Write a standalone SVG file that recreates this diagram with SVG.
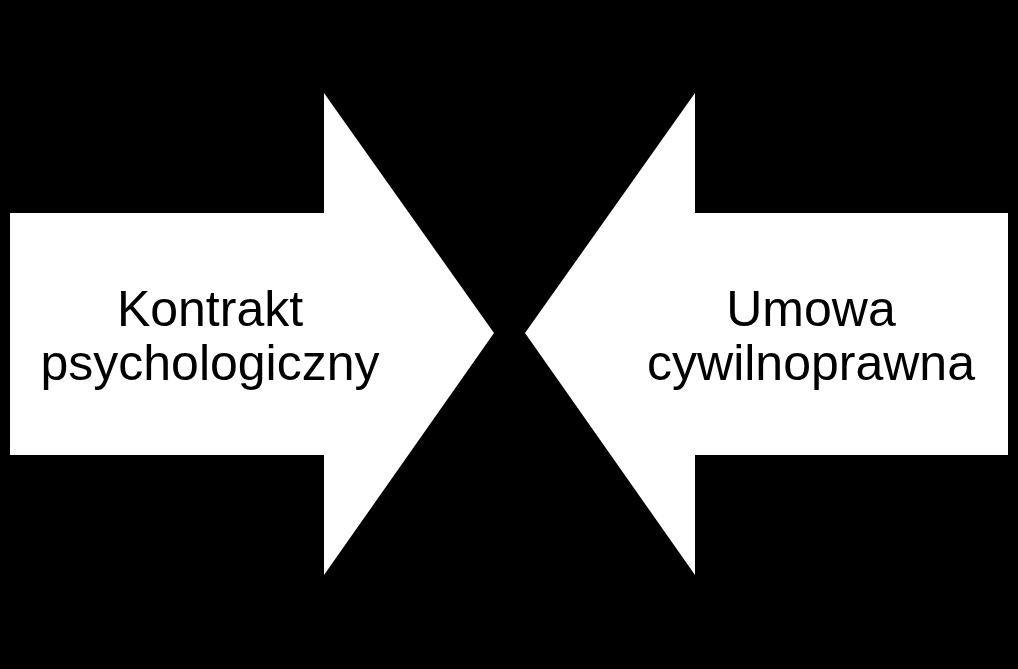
<svg xmlns="http://www.w3.org/2000/svg" width="1018" height="669" viewBox="0 0 1018 669">
<style>.a{fill:#fff;stroke:none}.t{font-family:"Liberation Sans",Arial,sans-serif;font-size:50px;fill:#000;text-anchor:middle}</style>
<rect width="1018" height="669" fill="#000"/>
<g id="left">
<polygon class="a" points="10,213 324,213 324,93 494,333 324,575 324,455 10,455"/>
<text class="t" x="210" y="326">Kontrakt</text>
<text class="t" x="210" y="380">psychologiczny</text>
</g>
<g id="right">
<polygon class="a" points="1008,213 695,213 695,93 525,333 695,575 695,455 1008,455"/>
<text class="t" x="811" y="326">Umowa</text>
<text class="t" x="811" y="380">cywilnoprawna</text>
</g>
<g id="connectors"/>
</svg>
